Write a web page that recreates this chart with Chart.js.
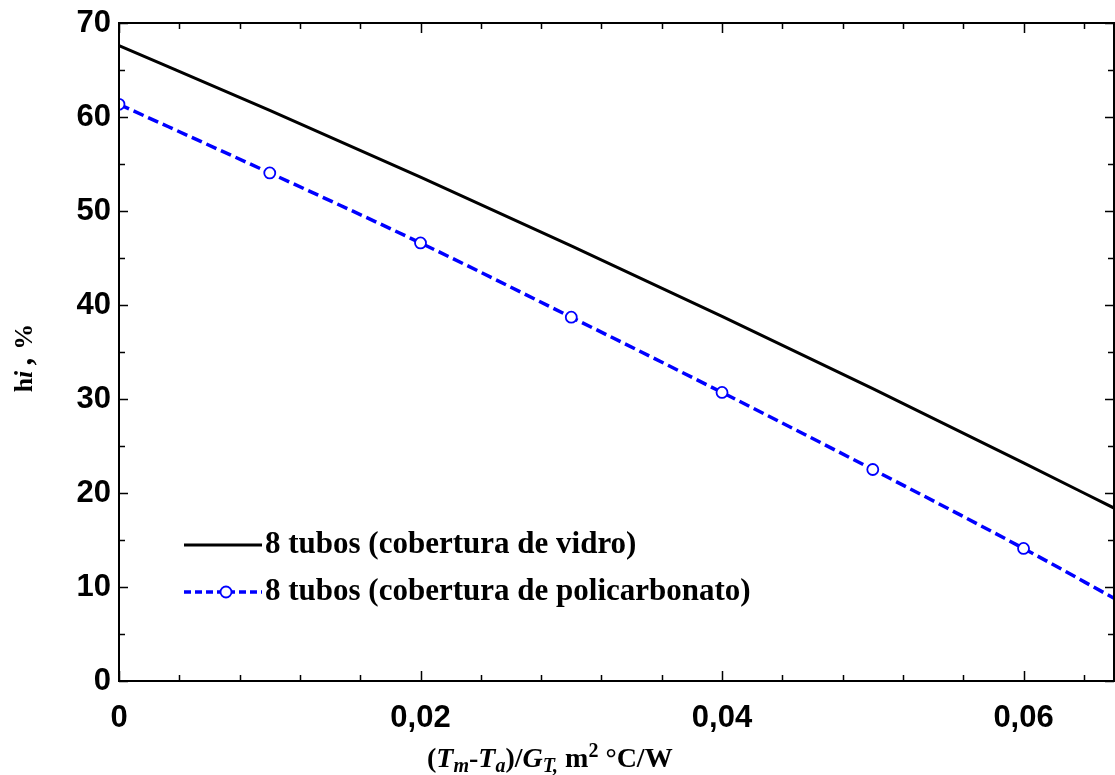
<!DOCTYPE html>
<html>
<head>
<meta charset="utf-8">
<script src="https://cdn.jsdelivr.net/npm/chart.js@4/dist/chart.umd.min.js"></script>
<style>
    html, body { margin: 0; padding: 0; background: #fff; }
    #wrap { width: 1115px; height: 775px; }
</style>
</head>
<body>
<div id="wrap"><canvas id="chart" width="1115" height="775"></canvas></div>
<script>
// data
const vidroX = [0, 0.01, 0.02, 0.03, 0.04, 0.05, 0.06, 0.066];
const vidroY = [67.6, 60.7, 53.6, 46.3, 38.8, 31.1, 23.2, 18.4];
const policX = [0, 0.01, 0.02, 0.03, 0.04, 0.05, 0.06, 0.066];
const policY = [61.35, 54.05, 46.6, 38.7, 30.7, 22.5, 14.1, 8.8];
const seriesLabels = [
    '8 tubos (cobertura de vidro)',
    '8 tubos (cobertura de policarbonato)',
];
const xMajorTicks = [0, 0.02, 0.04, 0.06];
const xMinorTicks = [0.004, 0.008, 0.012, 0.016, 0.024, 0.028, 0.032, 0.036,
    0.044, 0.048, 0.052, 0.056, 0.064];
const yMajorTicks = [0, 10, 20, 30, 40, 50, 60, 70];
const yMinorTicks = [5, 15, 25, 35, 45, 55, 65];

const BLUE = '#0000ff';
const tickFont = {family: 'Liberation Sans', size: 31, weight: 'bold'};

function formatX(v) {
    if (Math.abs(v) < 1e-9) {
        return '0';
    }
    return v.toFixed(2).replace('.', ',');
}

function toPoints(xs, ys) {
    return xs.map((x, i) => ({x, y: ys[i]}));
}

// frame, inward ticks, legend and axis titles
const decorPlugin = {
    id: 'decor',
    afterDraw(chart) {
        const ctx = chart.ctx;
        const a = chart.chartArea;
        const xs = chart.scales.x;
        const ys = chart.scales.y;
        ctx.save();
        ctx.strokeStyle = '#000';
        ctx.lineWidth = 2;
        ctx.strokeRect(a.left, a.top, a.right - a.left, a.bottom - a.top);

        ctx.lineWidth = 1.5;
        const xTick = (v, len) => {
            const px = Math.round(xs.getPixelForValue(v)) + 0.5;
            ctx.beginPath();
            ctx.moveTo(px, a.bottom);
            ctx.lineTo(px, a.bottom - len);
            ctx.moveTo(px, a.top);
            ctx.lineTo(px, a.top + len);
            ctx.stroke();
        };
        const yTick = (v, len) => {
            const py = Math.round(ys.getPixelForValue(v)) + 0.5;
            ctx.beginPath();
            ctx.moveTo(a.left, py);
            ctx.lineTo(a.left + len, py);
            ctx.moveTo(a.right, py);
            ctx.lineTo(a.right - len, py);
            ctx.stroke();
        };
        xMajorTicks.forEach((v) => xTick(v, 10));
        xMinorTicks.forEach((v) => xTick(v, 6));
        yMajorTicks.forEach((v) => yTick(v, 9));
        yMinorTicks.forEach((v) => yTick(v, 6));

        // legend
        const lx0 = 184;
        const lx1 = 262;
        const ly = [545, 592];
        ctx.lineWidth = 3;
        ctx.strokeStyle = '#000';
        ctx.setLineDash([]);
        ctx.beginPath();
        ctx.moveTo(lx0, ly[0]);
        ctx.lineTo(lx1, ly[0]);
        ctx.stroke();
        ctx.strokeStyle = BLUE;
        ctx.lineWidth = 3.5;
        ctx.setLineDash([7, 4]);
        ctx.beginPath();
        ctx.moveTo(lx0, ly[1]);
        ctx.lineTo(lx1, ly[1]);
        ctx.stroke();
        ctx.setLineDash([]);
        ctx.lineWidth = 1.8;
        ctx.fillStyle = '#fff';
        ctx.beginPath();
        ctx.arc(226, ly[1], 5.5, 0, Math.PI * 2);
        ctx.fill();
        ctx.stroke();

        ctx.fillStyle = '#000';
        ctx.font = 'bold 31px "Liberation Serif"';
        ctx.textBaseline = 'middle';
        ctx.textAlign = 'left';
        ctx.fillText(seriesLabels[0], 265, ly[0]);
        ctx.fillText(seriesLabels[1], 265, ly[1]);

        // x axis title with sub/superscripts
        const parts = [
            ['(', 'n', 0],
            ['T', 'i', 0],
            ['m', 'i', 1],
            ['-', 'n', 0],
            ['T', 'i', 0],
            ['a', 'i', 1],
            [')/', 'n', 0],
            ['G', 'i', 0],
            ['T,', 'i', 1],
            [' m', 'n', 0],
            ['2', 'n', -1],
            [' \u00b0C/W', 'n', 0],
        ];
        const fontFor = (style, shift) => {
            const size = shift === 0 ? 28 : 20;
            return `${style === 'i' ? 'italic ' : ''}bold ${size}px "Liberation Serif"`;
        };
        ctx.textBaseline = 'alphabetic';
        let cx = 427;
        const base = 767;
        parts.forEach(([t, style, shift]) => {
            ctx.font = fontFor(style, shift);
            const dy = shift === 1 ? 5 : shift === -1 ? -10 : 0;
            ctx.fillText(t, cx, base + dy);
            cx += ctx.measureText(t).width;
        });

        // y axis title, rotated
        ctx.translate(32, 358);
        ctx.rotate(-Math.PI / 2);
        const yParts = [
            ['h', 'bold 26px "Liberation Serif"'],
            ['i', 'italic bold 26px "Liberation Serif"'],
            [' ', 'bold 26px "Liberation Serif"'],
            [',', 'italic bold 32px "Liberation Serif"'],
            [' %', 'bold 26px "Liberation Serif"'],
        ];
        let total = 0;
        yParts.forEach(([t, f]) => {
            ctx.font = f;
            total += ctx.measureText(t).width;
        });
        let yx = -total / 2;
        yParts.forEach(([t, f]) => {
            ctx.font = f;
            ctx.fillText(t, yx, 0);
            yx += ctx.measureText(t).width;
        });
        ctx.restore();
    },
};

function buildChart() {
    const ctx = document.getElementById('chart').getContext('2d');
    return new Chart(ctx, {
        type: 'scatter',
        data: {
            datasets: [
                {
                    label: seriesLabels[0],
                    data: toPoints(vidroX, vidroY),
                    showLine: true,
                    borderColor: '#000',
                    borderWidth: 3,
                    pointRadius: 0,
                    cubicInterpolationMode: 'monotone',
                },
                {
                    label: seriesLabels[1],
                    data: toPoints(policX, policY),
                    showLine: true,
                    borderColor: BLUE,
                    borderWidth: 3.5,
                    borderDash: [11, 5],
                    pointRadius: policX.map((x) => (x > 0.0605 ? 0 : 5.5)),
                    pointBorderWidth: 1.8,
                    pointBorderColor: BLUE,
                    pointBackgroundColor: '#fff',
                    cubicInterpolationMode: 'monotone',
                },
            ],
        },
        options: {
            responsive: false,
            animation: false,
            layout: {
                autoPadding: false,
                padding: {top: 23, right: 1, left: 0, bottom: 0},
            },
            plugins: {
                legend: {display: false},
                tooltip: {enabled: false},
            },
            scales: {
                x: {
                    type: 'linear',
                    min: 0,
                    max: 0.066,
                    grid: {display: false, drawTicks: false},
                    border: {display: false},
                    afterBuildTicks(scale) {
                        scale.ticks = xMajorTicks.map((v) => ({value: v}));
                    },
                    afterFit(scale) {
                        scale.height = 94;
                        scale.paddingLeft = 0;
                        scale.paddingRight = 0;
                    },
                    ticks: {
                        color: '#000',
                        font: tickFont,
                        padding: 19,
                        maxRotation: 0,
                        callback: (v) => formatX(v),
                    },
                },
                y: {
                    min: 0,
                    max: 70,
                    grid: {display: false, drawTicks: false},
                    border: {display: false},
                    afterBuildTicks(scale) {
                        scale.ticks = yMajorTicks.map((v) => ({value: v}));
                    },
                    afterFit(scale) {
                        scale.width = 119;
                        scale.paddingTop = 0;
                        scale.paddingBottom = 0;
                    },
                    ticks: {
                        color: '#000',
                        font: tickFont,
                        padding: 8,
                    },
                },
            },
        },
        plugins: [decorPlugin],
    });
}

buildChart();
</script>
</body>
</html>
